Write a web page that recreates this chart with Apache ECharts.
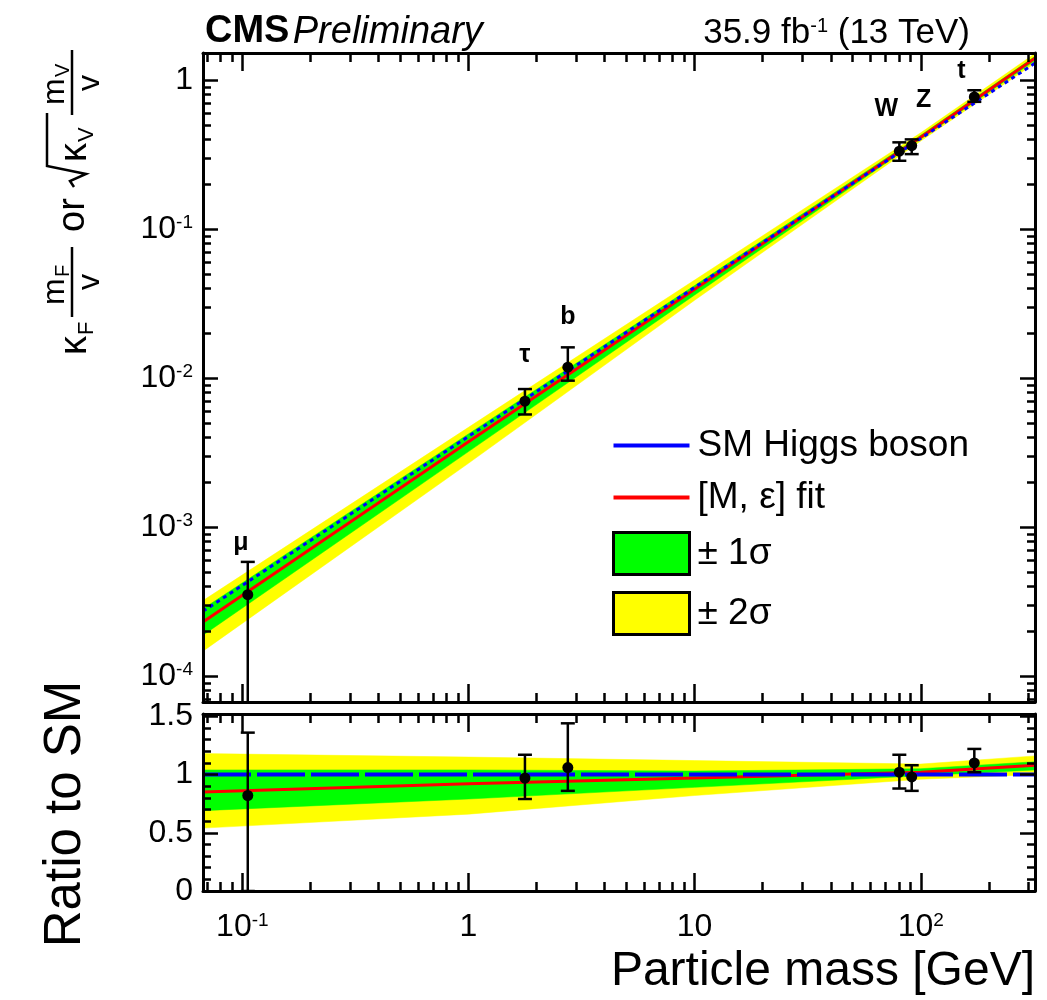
<!DOCTYPE html>
<html><head><meta charset="utf-8">
<script src="https://cdn.jsdelivr.net/npm/echarts@6/dist/echarts.min.js"></script>
<style>html,body{margin:0;padding:0;background:#fff}#c{width:1047px;height:1000px}</style>
</head><body><div id="c"></div><script>
// ---------------- data ----------------
const particles     = ['μ', 'τ', 'b', 'W', 'Z', 't'];
const particleMass  = [0.1057, 1.777, 2.75, 80.4, 91.19, 172.5];
// top panel: kappa_F m_F / v  or  sqrt(kappa_V) m_V / v
const coupling      = [3.52e-4, 7.00e-3, 1.184e-2, 0.3331, 0.3630, 0.7706];
const couplingLo    = [0,       5.70e-3, 9.61e-3,  0.2874, 0.3185, 0.7146];
const couplingHi    = [5.84e-4, 8.44e-3, 1.608e-2, 0.3821, 0.4000, 0.8547];
// bottom panel: ratio to SM
const ratio         = [0.82, 0.97, 1.06, 1.02, 0.98, 1.10];
const ratioLo       = [0.00, 0.79, 0.86, 0.88, 0.86, 1.02];
const ratioHi       = [1.36, 1.17, 1.44, 1.17, 1.08, 1.22];

// curves (straight lines on log-log axes), sampled at these masses
const curveMass     = [0.067, 1, 10, 100, 320];
const smCurve       = [2.721e-4, 4.061e-3, 4.061e-2, 0.4061, 1.2996];
const fitCurve      = [2.31e-4, 3.74e-3, 3.94e-2, 0.414, 1.404];
const band1Lo       = [1.88e-4, 3.21e-3, 3.61e-2, 0.402, 1.352];
const band1Hi       = [2.83e-4, 4.22e-3, 4.18e-2, 0.426, 1.443];
const band2Lo       = [1.47e-4, 2.68e-3, 3.33e-2, 0.390, 1.300];
const band2Hi       = [3.21e-4, 4.67e-3, 4.55e-2, 0.443, 1.508];
const smRatio       = [1, 1, 1, 1, 1];
const fitRatio      = [0.85, 0.92, 0.97, 1.02, 1.08];
const band1RatioLo  = [0.69, 0.79, 0.89, 0.99, 1.04];
const band1RatioHi  = [1.04, 1.04, 1.03, 1.05, 1.11];
const band2RatioLo  = [0.54, 0.66, 0.82, 0.96, 1.00];
const band2RatioHi  = [1.18, 1.15, 1.12, 1.09, 1.16];

// axes
const xRange        = [0.067, 320];
const yTopRange     = [6.7e-5, 1.52];
const yBotRange     = [0, 1.52];
const xMajorTicks   = [0.1, 1, 10, 100];
const xTickLabels   = ['10^-1', '1', '10', '10^2'];
const xMinorTicks   = [0.07, 0.08, 0.09, 0.2, 0.3, 0.4, 0.5, 0.6, 0.7, 0.8, 0.9,
                       2, 3, 4, 5, 6, 7, 8, 9, 20, 30, 40, 50, 60, 70, 80, 90, 200, 300];
const yTopMajorTicks = [1e-4, 1e-3, 1e-2, 1e-1, 1];
const yTopTickLabels = ['10^-4', '10^-3', '10^-2', '10^-1', '1'];
const yTopMinorTicks = [7e-5, 8e-5, 9e-5,
                        2e-4, 3e-4, 4e-4, 5e-4, 6e-4, 7e-4, 8e-4, 9e-4,
                        2e-3, 3e-3, 4e-3, 5e-3, 6e-3, 7e-3, 8e-3, 9e-3,
                        2e-2, 3e-2, 4e-2, 5e-2, 6e-2, 7e-2, 8e-2, 9e-2,
                        0.2, 0.3, 0.4, 0.5, 0.6, 0.7, 0.8, 0.9];
const yBotMajorTicks = [0, 0.5, 1, 1.5];
const yBotTickLabels = ['0', '0.5', '1', '1.5'];
const yBotMinorTicks = [0.1, 0.2, 0.3, 0.4, 0.6, 0.7, 0.8, 0.9, 1.1, 1.2, 1.3, 1.4];

// ---------------- chart ----------------
const FONT = '"Liberation Sans", Arial, Helvetica, sans-serif';
const chart = echarts.init(document.getElementById('c'), null, {renderer: 'canvas'});

function richLabel(s) {
  const p = s.split('^');
  return p.length > 1 ? '{n|' + p[0] + '}{s|' + p[1] + '}' : '{n|' + s + '}';
}
function makeFormatter(majors, labels) {
  return function (v) {
    let best = 0, bd = Infinity;
    majors.forEach((m, i) => {
      const d = Math.abs(m - v) / Math.max(Math.abs(m), 1e-12);
      if (d < bd) { bd = d; best = i; }
    });
    return richLabel(labels[best]);
  };
}
const labelRich = {
  n: {fontSize: 32, fontFamily: FONT, color: '#000'},
  s: {fontSize: 19, fontFamily: FONT, color: '#000', verticalAlign: 'top'}
};
const tickStyle = {color: '#000', width: 2.5};

function axisSet(dim, gridIndex, type, range, majors, minors, labels, majorLen, minorLen) {
  const posA = dim === 'x' ? 'bottom' : 'left';
  const posB = dim === 'x' ? 'top' : 'right';
  const base = {
    type: type, gridIndex: gridIndex, min: range[0], max: range[1], z: 10,
    splitLine: {show: false}, axisLabel: {show: false}
  };
  const major = (pos, withLabels) => Object.assign({}, base, {
    position: pos,
    axisLine: {show: true, onZero: false, lineStyle: {color: '#000', width: 3}},
    axisTick: {show: true, inside: true, length: majorLen, lineStyle: tickStyle, customValues: majors},
    axisLabel: withLabels ? {
      show: true, customValues: majors, formatter: makeFormatter(majors, labels),
      rich: labelRich, margin: dim === 'x' ? 20 : 10
    } : {show: false}
  });
  const minor = (pos) => Object.assign({}, base, {
    position: pos,
    axisLine: {show: false, onZero: false},
    axisTick: {show: true, inside: true, length: minorLen, lineStyle: tickStyle, customValues: minors}
  });
  return [major(posA, !!labels), minor(posA), major(posB, false), minor(posB)];
}

const xAxes = [].concat(
  axisSet('x', 0, 'log', xRange, xMajorTicks, xMinorTicks, null, 18, 9),
  axisSet('x', 1, 'log', xRange, xMajorTicks, xMinorTicks, xTickLabels, 18, 9)
);
const yAxes = [].concat(
  axisSet('y', 0, 'log', yTopRange, yTopMajorTicks, yTopMinorTicks, yTopTickLabels, 15, 8),
  axisSet('y', 1, 'value', yBotRange, yBotMajorTicks, yBotMinorTicks, yBotTickLabels, 15, 8)
);

function bandSeries(name, color, lo, hi, xi, yi) {
  return {
    type: 'custom', name: name, xAxisIndex: xi, yAxisIndex: yi, clip: true, silent: true, z: 2,
    itemStyle: {color: color},
    encode: {x: 0, y: [1, 2]},
    data: curveMass.map((m, i) => [m, lo[i], hi[i]]),
    renderItem: function (params, api) {
      if (params.dataIndexInside !== 0) return null;
      const n = params.dataInsideLength;
      const pts = [];
      for (let j = 0; j < n; j++) pts.push(api.coord([api.value(0, j), api.value(2, j)]));
      for (let j = n - 1; j >= 0; j--) pts.push(api.coord([api.value(0, j), api.value(1, j)]));
      return {type: 'polygon', shape: {points: pts}, style: {fill: color, stroke: color, lineWidth: 0.5}};
    }
  };
}
function lineSeries(name, values, color, width, dash, xi, yi, z) {
  return {
    type: 'line', name: name, xAxisIndex: xi, yAxisIndex: yi, z: z, silent: true,
    data: curveMass.map((m, i) => [m, values[i]]),
    showSymbol: false, symbol: 'none', animation: false,
    itemStyle: {color: color},
    lineStyle: {color: color, width: width, type: dash}
  };
}
const labelOffset = {'μ': [-7, -52], 'τ': [0, -46], 'b': [0, -50], 'W': [-13, -42], 'Z': [12, -46], 't': [-13, -26]};

function pointSeries(vals, los, his, xi, yi, withLabels) {
  return {
    type: 'custom', xAxisIndex: xi, yAxisIndex: yi, clip: true, silent: true, z: 6,
    encode: {x: 0, y: 1},
    data: particleMass.map((m, i) => [m, vals[i], los[i], his[i], i]),
    renderItem: function (params, api) {
      const cs = params.coordSys;
      const m = api.value(0);
      const c = api.coord([m, api.value(1)]);
      let yLo = api.coord([m, api.value(2)])[1];
      if (!isFinite(yLo)) yLo = cs.y + cs.height + 5;
      const yHi = api.coord([m, api.value(3)])[1];
      const st = {stroke: '#000', lineWidth: 2.5};
      const kids = [
        {type: 'line', shape: {x1: c[0], y1: yLo, x2: c[0], y2: yHi}, style: st},
        {type: 'line', shape: {x1: c[0] - 7, y1: yHi, x2: c[0] + 7, y2: yHi}, style: st},
        {type: 'line', shape: {x1: c[0] - 7, y1: yLo, x2: c[0] + 7, y2: yLo}, style: st},
        {type: 'circle', shape: {cx: c[0], cy: c[1], r: 5.5}, style: {fill: '#000'}}
      ];
      if (withLabels) {
        const name = particles[api.value(4)];
        const off = labelOffset[name];
        kids.push({type: 'text', style: {
          text: name, x: c[0] + off[0], y: c[1] + off[1], align: 'center', verticalAlign: 'middle',
          font: 'bold 25px ' + FONT, fill: '#000'
        }});
      }
      return {type: 'group', children: kids};
    }
  };
}

// y-axis title of the top panel (rotated)
function t(text, x, y, size, align) {
  return {type: 'text', style: {text: text, x: x, y: y, font: size + 'px ' + FONT, fill: '#000',
    align: align || 'left', verticalAlign: 'middle'}};
}
const lineSt = {stroke: '#000', lineWidth: 2.5};
const yTitle = {
  type: 'group', x: 72, y: 355, rotation: Math.PI / 2,
  children: [
    t('κ', 0, 4, 38), t('F', 20, 15, 22),
    {type: 'line', shape: {x1: 38, y1: 0, x2: 108, y2: 0}, style: lineSt},
    t('m', 50, -17, 32), t('F', 78, -9, 20), t('v', 73, 18, 32, 'center'),
    t('or', 140, 2, 38, 'center'),
    {type: 'polyline', shape: {points: [[168, 2], [174, -2], [181, 14], [189, -25], [242, -25]]}, style: {stroke: '#000', lineWidth: 2.5, fill: null}},
    t('κ', 193, 4, 38), t('V', 213, 15, 22),
    {type: 'line', shape: {x1: 240, y1: 0, x2: 305, y2: 0}, style: lineSt},
    t('m', 250, -17, 32), t('V', 278, -9, 20), t('v', 272, 18, 32, 'center')
  ]
};

const lineIcon = 'path://M0,0H76V4H0Z';
const option = {
  animation: false,
  backgroundColor: '#fff',
  grid: [
    {left: 203, top: 53, width: 832, height: 649, show: false},
    {left: 203, top: 714, width: 832, height: 177, show: false}
  ],
  xAxis: xAxes,
  yAxis: yAxes,
  legend: {
    orient: 'vertical', left: 607, top: 422, itemWidth: 76, itemHeight: 42, itemGap: 15,
    selectedMode: false, symbolKeepAspect: true,
    textStyle: {fontSize: 37, fontFamily: FONT, color: '#000', padding: [0, 0, 0, 3]},
    data: [
      {name: 'SM Higgs boson', icon: lineIcon, itemStyle: {color: '#0000ff', borderWidth: 0}},
      {name: '[M, ε] fit', icon: lineIcon, itemStyle: {color: '#ff0000', borderWidth: 0}},
      {name: '± 1σ', icon: 'rect', itemStyle: {color: '#00ff00', borderColor: '#000', borderWidth: 3}},
      {name: '± 2σ', icon: 'rect', itemStyle: {color: '#ffff00', borderColor: '#000', borderWidth: 3}}
    ]
  },
  series: [
    bandSeries('± 2σ', '#ffff00', band2Lo, band2Hi, 0, 0),
    bandSeries('± 1σ', '#00ff00', band1Lo, band1Hi, 0, 0),
    lineSeries('[M, ε] fit', fitCurve, '#ff0000', 3, 'solid', 0, 0, 3),
    lineSeries('SM Higgs boson', smCurve, '#0000ff', 3, [4, 4], 0, 0, 4),
    pointSeries(coupling, couplingLo, couplingHi, 0, 0, true),

    bandSeries('± 2σ', '#ffff00', band2RatioLo, band2RatioHi, 4, 4),
    bandSeries('± 1σ', '#00ff00', band1RatioLo, band1RatioHi, 4, 4),
    lineSeries('[M, ε] fit', fitRatio, '#ff0000', 3, 'solid', 4, 4, 3),
    lineSeries('SM Higgs boson', smRatio, '#0000ff', 4, [48, 6], 4, 4, 4),
    pointSeries(ratio, ratioLo, ratioHi, 4, 4, false)
  ],
  graphic: [
    {type: 'text', left: 205, top: 13, style: {
      text: '{b|CMS} {i|Preliminary}', fill: '#000',
      rich: {b: {font: 'bold 38px ' + FONT}, i: {font: 'italic 38px ' + FONT}}
    }},
    {type: 'text', right: 77, top: 16, style: {
      text: '{n|35.9 fb}{s|-1}{n| (13 TeV)}', fill: '#000',
      rich: {n: {font: '35px ' + FONT}, s: {font: '20px ' + FONT, verticalAlign: 'top'}}
    }},
    yTitle,
    {type: 'text', x: 66, y: 814, rotation: Math.PI / 2, style: {
      text: 'Ratio to SM', font: '51px ' + FONT, fill: '#000', align: 'center', verticalAlign: 'middle'
    }},
    {type: 'text', right: 12, top: 948, style: {
      text: 'Particle mass [GeV]', font: '48px ' + FONT, fill: '#000'
    }}
  ]
};
chart.setOption(option);
</script></body></html>
